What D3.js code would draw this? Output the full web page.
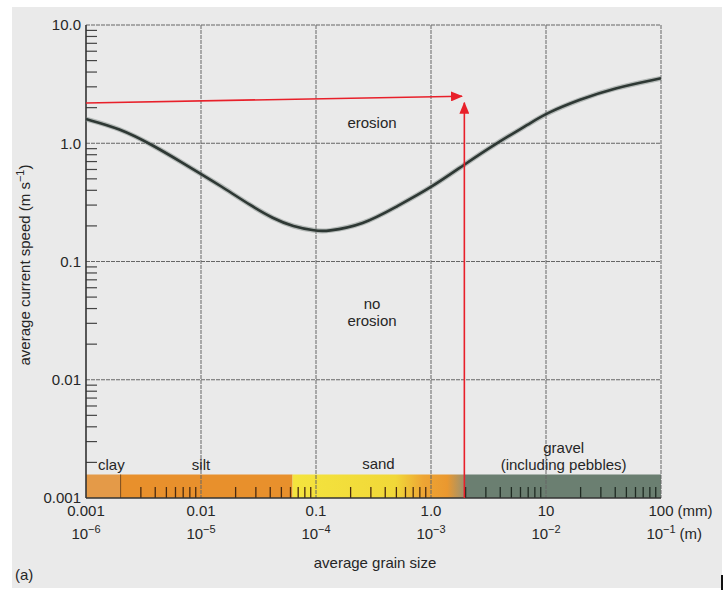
<!DOCTYPE html>
<html>
<head>
<meta charset="utf-8">
<script src="https://cdn.jsdelivr.net/npm/d3@7"></script>
<style>
  body { margin: 0; background: #fff; }
  text { font-family: "Liberation Sans", Arial, sans-serif; fill: #262626; font-size: 15px; }
</style>
</head>
<body>
<svg id="chart" width="725" height="590"></svg>
<script>
// curve: grain size (mm) vs threshold speed (m/s)
const grainSize = [0.001, 0.00195, 0.0038, 0.0074, 0.01, 0.0144, 0.028, 0.042, 0.063, 0.1, 0.122, 0.258, 0.50, 1.0, 1.98, 3.7, 7.3, 10, 19.8, 38.5, 100];
const speed     = [1.60,  1.34,    0.967,  0.656,  0.55, 0.444,  0.291, 0.232, 0.197, 0.1815, 0.179, 0.204, 0.291, 0.42, 0.668, 1.0, 1.476, 1.79, 2.35, 2.92, 3.54];

const xTicks = [0.001, 0.01, 0.1, 1, 10, 100];
const xTickLabels = ["0.001", "0.01", "0.1", "1.0", "10", "100"];
const xTickExp = ["\u22126", "\u22125", "\u22124", "\u22123", "\u22122", "\u22121"];
const yTicks = [0.001, 0.01, 0.1, 1, 10];
const yTickLabels = ["0.001", "0.01", "0.1", "1.0", "10.0"];

// grain classes (mm)
const classNames = ["clay", "silt", "sand", "gravel"];
const classBounds = [0.001, 0.002, 0.0625, 1.95, 100];

// red arrows
const arrowHx = [0.001, 1.86];
const arrowHy = [2.19, 2.5];
const arrowVx = [1.95, 1.95];
const arrowVy = [0.001, 2.2];

const svg = d3.select("#chart");
const m = { left: 86, right: 661, top: 25, bottom: 498 };

const x = d3.scaleLog().domain([0.001, 100]).range([m.left, m.right]);
const y = d3.scaleLog().domain([0.001, 10]).range([m.bottom, m.top]);

// paper panel
svg.append("rect").attr("x", 12).attr("y", 7).attr("width", 710).attr("height", 581).attr("fill", "#eaeaea");
svg.append("rect").attr("x", 721).attr("y", 575).attr("width", 2).attr("height", 15).attr("fill", "#111");

const defs = svg.append("defs");
const sandGrad = defs.append("linearGradient").attr("id", "sandGrad");
[[0, "#f4e43e"], [0.6, "#f1d838"], [0.76, "#eea534"], [0.9, "#ea982f"], [1, "#9c9270"]]
  .forEach(s => sandGrad.append("stop").attr("offset", s[0]).attr("stop-color", s[1]));

["headH", "headV"].forEach(id => {
  defs.append("marker").attr("id", id)
    .attr("viewBox", "0 0 12 10").attr("refX", 11).attr("refY", 5)
    .attr("markerWidth", 12).attr("markerHeight", 10)
    .attr("markerUnits", "userSpaceOnUse").attr("orient", "auto")
    .append("path").attr("d", "M0,0L12,5L0,10Z").attr("fill", "#e8202a");
});

// grain size bar
const barTop = 474.5;
const classFills = ["#e49a48", "#e8902c", "url(#sandGrad)", "#6b7f71"];
classNames.forEach((c, i) => {
  svg.append("rect")
    .attr("x", x(classBounds[i]))
    .attr("y", barTop)
    .attr("width", x(classBounds[i + 1]) - x(classBounds[i]))
    .attr("height", m.bottom - barTop)
    .attr("fill", classFills[i]);
});
// clay boundary line
svg.append("line")
  .attr("x1", x(classBounds[1])).attr("x2", x(classBounds[1]))
  .attr("y1", barTop).attr("y2", m.bottom)
  .attr("stroke", "#7a4a1a").attr("stroke-width", 1);

// minor ticks inside the bar
const minor = [];
for (let e = -3; e < 2; e++) for (let k = 2; k <= 9; k++) minor.push(k * Math.pow(10, e));
svg.append("g").selectAll("line").data(minor.filter(v => v > 0.0025)).join("line")
  .attr("x1", d => x(d)).attr("x2", d => x(d))
  .attr("y1", m.bottom - 11).attr("y2", m.bottom)
  .attr("stroke", d => d > classBounds[3] ? "#1f2a22" : "#4a2a10")
  .attr("stroke-width", 1.3);

// grid
const grid = svg.append("g").attr("stroke", "#666").attr("stroke-width", 1).attr("stroke-dasharray", "4,1");
grid.selectAll(".v").data(xTicks.slice(1)).join("line").attr("class", "v")
  .attr("x1", d => x(d)).attr("x2", d => x(d)).attr("y1", m.top).attr("y2", m.bottom);
grid.selectAll(".h").data(yTicks.slice(1)).join("line").attr("class", "h")
  .attr("x1", m.left).attr("x2", m.right).attr("y1", d => y(d)).attr("y2", d => y(d));

// y axis with inward ticks
const yMinor = [];
for (let e = -3; e < 1; e++) for (let k = 2; k <= 9; k++) yMinor.push(k * Math.pow(10, e));
svg.append("g").selectAll("line").data(yMinor).join("line")
  .attr("x1", m.left).attr("x2", m.left + 11)
  .attr("y1", d => y(d)).attr("y2", d => y(d))
  .attr("stroke", "#444").attr("stroke-width", 1.2);
svg.append("line").attr("x1", m.left).attr("x2", m.left).attr("y1", m.top).attr("y2", m.bottom)
  .attr("stroke", "#333").attr("stroke-width", 1.6);
svg.append("line").attr("x1", m.left).attr("x2", m.right).attr("y1", m.bottom).attr("y2", m.bottom)
  .attr("stroke", "#333").attr("stroke-width", 1.6);

svg.append("g").selectAll("text").data(yTicks).join("text")
  .attr("x", m.left - 5).attr("y", d => y(d)).attr("dy", "0.36em")
  .attr("text-anchor", "end")
  .text((d, i) => yTickLabels[i]);

// x tick labels: mm and m rows
svg.append("g").selectAll("text").data(xTicks).join("text")
  .attr("x", d => x(d)).attr("y", 516).attr("text-anchor", "middle")
  .text((d, i) => xTickLabels[i]);
const mRow = svg.append("g").selectAll("text").data(xTicks).join("text")
  .attr("x", d => x(d)).attr("y", 539).attr("text-anchor", "middle");
mRow.append("tspan").text("10");
mRow.append("tspan").attr("dy", -6).attr("font-size", 11).text((d, i) => xTickExp[i]);

// unit labels after the last tick
const lastMm = svg.selectAll("text").filter(function () { return this.textContent === "100"; }).node();
const mmW = lastMm.getComputedTextLength();
svg.append("text").attr("x", x(100) + mmW / 2 + 4).attr("y", 516).text("(mm)");
const lastM = mRow.filter((d, i) => i === xTicks.length - 1).node();
const mW = lastM.getComputedTextLength();
svg.append("text").attr("x", x(100) + mW / 2 + 4).attr("y", 539).text("(m)");

// axis titles
svg.append("text").attr("x", 375).attr("y", 568).attr("text-anchor", "middle").text("average grain size");
const yt = svg.append("text").attr("transform", "translate(30,265) rotate(-90)").attr("text-anchor", "middle");
yt.append("tspan").text("average current speed (m s");
yt.append("tspan").attr("dy", -6).attr("font-size", 11).text("\u22121");
yt.append("tspan").attr("dy", 6).text(")");
svg.append("text").attr("x", 15).attr("y", 580).text("(a)");

// class labels
svg.append("text").attr("x", x(classBounds[0]) + 12).attr("y", 470).text("clay");
svg.append("text").attr("x", x(0.01)).attr("y", 470).attr("text-anchor", "middle").text("silt");
svg.append("text").attr("x", x(Math.sqrt(classBounds[2] * classBounds[3]))).attr("y", 469).attr("text-anchor", "middle").text("sand");
const gx = x(Math.sqrt(classBounds[3] * classBounds[4])) + 1;
svg.append("text").attr("x", gx).attr("y", 453).attr("text-anchor", "middle").text("gravel");
svg.append("text").attr("x", gx).attr("y", 470).attr("text-anchor", "middle").text("(including pebbles)");

// region labels
svg.append("text").attr("x", 372).attr("y", 128).attr("text-anchor", "middle").text("erosion");
svg.append("text").attr("x", 372).attr("y", 309).attr("text-anchor", "middle").text("no");
svg.append("text").attr("x", 372).attr("y", 326).attr("text-anchor", "middle").text("erosion");

// curve (B-spline smooths out reading noise)
const pts = grainSize.map((g, i) => [x(g), y(speed[i])]);
const line = d3.line().curve(d3.curveBasis);
svg.append("path").attr("d", line(pts)).attr("fill", "none")
  .attr("stroke", "#7f8a85").attr("stroke-width", 5).attr("stroke-opacity", 0.5);
svg.append("path").attr("d", line(pts)).attr("fill", "none")
  .attr("stroke", "#2e3834").attr("stroke-width", 2.6);

// red arrows
svg.append("line")
  .attr("x1", x(arrowHx[0])).attr("y1", y(arrowHy[0]))
  .attr("x2", x(arrowHx[1])).attr("y2", y(arrowHy[1]))
  .attr("stroke", "#e8202a").attr("stroke-width", 1.6).attr("marker-end", "url(#headH)");
svg.append("line")
  .attr("x1", x(arrowVx[0])).attr("y1", y(arrowVy[0]))
  .attr("x2", x(arrowVx[1])).attr("y2", y(arrowVy[1]))
  .attr("stroke", "#e8202a").attr("stroke-width", 1.6).attr("marker-end", "url(#headV)");
</script>
</body>
</html>
